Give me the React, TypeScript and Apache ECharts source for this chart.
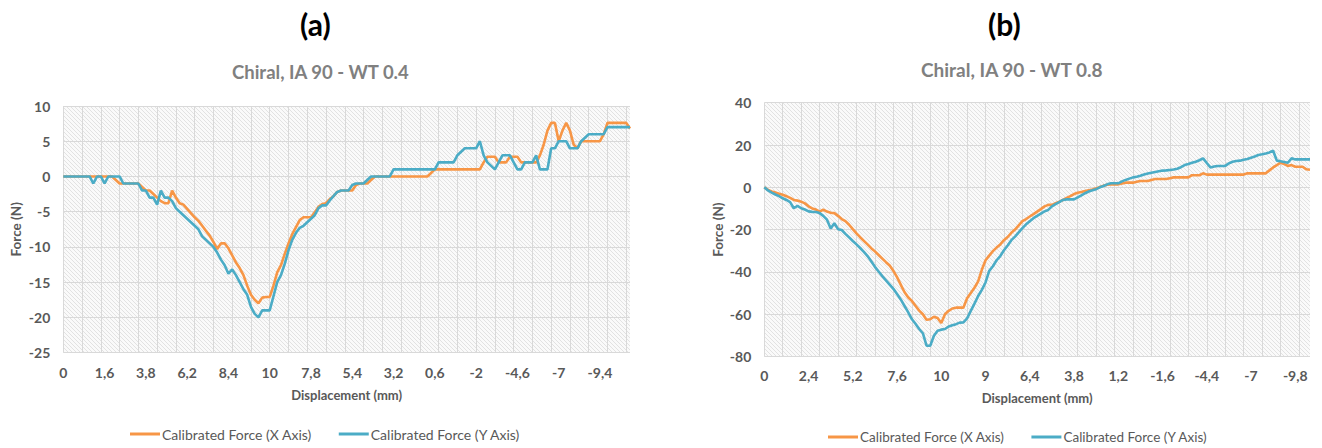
import React, { useEffect, useRef } from "react";
import * as echarts from "echarts";

// ---------- data ----------
const seriesNames = ["Calibrated Force (X Axis)", "Calibrated Force (Y Axis)"];

// (a) Chiral, IA 90 - WT 0.4 : tick labels shown every 11 samples
const tickLabelsA = ["0", "1,6", "3,8", "6,2", "8,4", "10", "7,8", "5,4", "3,2", "0,6", "-2", "-4,6", "-7", "-9,4"];
const labelStepA = 11;
const forceXA = [
  0, 0, 0, 0, 0, 0, 0, 0, 0, 0,
  0, 0, 0, 0, -0.5, -1, -1, -1, -1, -1,
  -1, -1.5, -2, -2, -2.5, -3, -3.5, -3.8, -3.8, -2,
  -3, -3.8, -4, -4.6, -5.2, -5.8, -6.3, -7, -7.7, -8.4,
  -9.3, -10.3, -9.5, -9.5, -10.2, -11.2, -12.2, -13, -14, -15.5,
  -16.8, -17.5, -18, -17.2, -17.1, -17.1, -15.5, -13.6, -12.6, -11,
  -9.5, -8.2, -7.2, -6.2, -5.8, -5.8, -5.8, -5.1, -4.3, -3.9,
  -3.8, -3.2, -2.8, -2.2, -2, -2, -2, -2, -1.2, -1,
  -1, -1, -0.5, 0, 0, 0, 0, 0, 0, 0,
  0, 0, 0, 0, 0, 0, 0, 0, 0.5, 1,
  1, 1, 1, 1, 1, 1, 1, 1, 1, 1,
  1, 1, 2, 2.8, 2.8, 2.8, 2, 2, 2, 2.8,
  2.8, 2.8, 2, 2, 2, 2, 2, 3, 4.5, 6.5,
  7.6, 7.6, 5, 6.5, 7.6, 6.5, 4.5, 4, 5, 5,
  5, 5, 5, 5, 6, 7.6, 7.6, 7.6, 7.6, 7.6,
  7.6, 6.8,
];
const forceYA = [
  0, 0, 0, 0, 0, 0, 0, 0, -1, 0,
  0, -1, 0, 0, 0, 0, -1, -1, -1, -1,
  -1, -2, -2, -3, -3, -4, -2, -3, -3, -3.5,
  -4.5, -5, -5.5, -6, -6.5, -7, -7.5, -8.5, -9, -9.5,
  -10, -10.8, -11.8, -12.6, -13.8, -13.2, -14, -15, -16, -16.8,
  -18.5, -19.5, -20, -19, -19, -19, -17, -15, -14, -12.4,
  -10.5, -9, -8, -7.3, -7, -6.5, -6, -5.5, -4.5, -4.1,
  -4.1, -3.4, -2.8, -2.2, -2, -2, -2, -1.2, -1, -1,
  -1, -0.5, 0, 0, 0, 0, 0, 0, 1, 1,
  1, 1, 1, 1, 1, 1, 1, 1, 1, 1,
  2, 2, 2, 2, 2, 3, 3.5, 4, 4, 4,
  4, 5, 3, 2, 1.5, 1, 2, 3, 3, 3,
  2, 1, 1, 2, 2, 2, 3, 1, 1, 1,
  4, 4, 5, 5, 5, 4, 4, 4, 5, 5.5,
  6, 6, 6, 6, 6, 7, 7, 7, 7, 7,
  7, 7,
];
const yAxisA = { min: -25, max: 10, interval: 5 };

// (b) Chiral, IA 90 - WT 0.8 : tick labels shown every 12 samples
const tickLabelsB = ["0", "2,4", "5,2", "7,6", "10", "9", "6,4", "3,8", "1,2", "-1,6", "-4,4", "-7", "-9,8"];
const labelStepB = 12;
const forceXB = [
  0, -1.2, -2, -2.5, -3, -3.5, -4.2, -5, -6, -6.3,
  -6.8, -7.6, -9, -10, -10.5, -11.5, -10.5, -11.5, -12, -12.2,
  -13.5, -15, -16, -17.7, -19.8, -21.8, -23.6, -25.3, -27, -28.8,
  -30.3, -32, -33.7, -35.4, -37, -39.5, -42.5, -46, -49.5, -52,
  -53.7, -56, -58.3, -60, -62.6, -62.4, -61.2, -61.8, -64.2, -60,
  -58.4, -57.3, -56.9, -56.9, -56.9, -52.5, -50, -47.5, -44.5, -39,
  -34.5, -32.3, -30.2, -28.5, -27, -25, -23.5, -21.5, -20, -18,
  -16, -15, -13.8, -12.7, -11.5, -10.3, -9, -8.3, -8.3, -7.5,
  -6.8, -6, -5, -4.2, -3.2, -2.6, -2.2, -1.8, -1.4, -1,
  -0.5, 0.2, 0.8, 1.2, 1.4, 1.4, 1.4, 1.8, 2.2, 2.2,
  2.2, 2.6, 3, 3, 3, 3.5, 3.9, 3.9, 3.9, 3.9,
  4.3, 4.7, 4.7, 4.7, 4.7, 4.7, 5.7, 5.7, 5.7, 6.6,
  6, 6, 6, 6, 6, 6, 6, 6, 6, 6,
  6, 6.6, 6.6, 6.6, 6.6, 6.6, 6.6, 8, 9.4, 10.5,
  11.6, 11, 10.1, 10.5, 9.7, 9.7, 9.7, 8.5, 8.3,
];
const forceYB = [
  0, -1.5, -2.5, -3.4, -4.2, -5.2, -6, -7, -9.9, -8.8,
  -9.9, -10.5, -11.4, -11.6, -11.7, -12.2, -13.5, -15.3, -19.5, -17,
  -19.8, -20.2, -22, -23.7, -25.4, -27, -28.7, -30.5, -32.5, -35,
  -37.6, -39.8, -42, -44, -46, -48, -50.5, -53, -56, -59,
  -62.3, -64.5, -67, -69, -74.9, -74.9, -70.2, -67.8, -67.3, -67,
  -65.8, -65.2, -64.7, -64, -63.9, -62, -58.4, -55, -51.4, -48.5,
  -45, -39.5, -37.3, -34.5, -32.5, -29.8, -27.5, -25, -23.3, -21.3,
  -19.3, -17.5, -16, -14.6, -13.5, -12.4, -11.4, -10.7, -9, -8,
  -7, -6, -5.7, -5.7, -5.7, -4.8, -3.8, -2.8, -2, -1.4,
  -0.9, 0, 0.6, 1.4, 1.9, 1.9, 1.9, 2.8, 3.5, 4.1,
  4.7, 5, 5.5, 6.1, 6.5, 6.9, 7.2, 7.6, 7.9, 8,
  8.2, 8.4, 8.8, 9.5, 10.5, 11, 11.6, 12.1, 12.8, 13.7,
  11.5, 9.4, 9.8, 10.1, 10.1, 10.1, 11.3, 12.1, 12.4, 12.6,
  13, 13.4, 14, 14.6, 15.3, 15.6, 16, 16.5, 17.3, 12.6,
  12.3, 12, 11.6, 13.7, 13.2, 13.2, 13.2, 13.2, 13.2,
];
const yAxisB = { min: -80, max: 40, interval: 20 };

// ---------- styles ----------
const FONT = "Lato, 'Open Sans', sans-serif";
const AXIS_TEXT = "#595959";
const GRID_LINE = "#d9d9d9";
const ORANGE = "#F79646";
const BLUE = "#4BACC6";

function makeHatch(): HTMLCanvasElement {
  const c = document.createElement("canvas");
  c.width = 4;
  c.height = 4;
  const ctx = c.getContext("2d")!;
  ctx.fillStyle = "#fafafa";
  ctx.fillRect(0, 0, 4, 4);
  ctx.fillStyle = "#e2e2e2";
  for (let k = 0; k < 4; k++) ctx.fillRect(k, k, 1, 1);
  return c;
}

function xAxisFor(gridIndex: number, n: number, labels: string[], step: number, nameGap: number, margin: number) {
  return {
    type: "category" as const,
    gridIndex,
    data: Array.from({ length: n }, (_, i) => String(i)),
    boundaryGap: false,
    axisLine: { show: false },
    axisTick: { show: false },
    axisLabel: {
      interval: (i: number) => i % step === 0 && i / step < labels.length,
      formatter: (_v: string, i: number) => labels[i / step] ?? "",
      color: AXIS_TEXT,
      fontWeight: "bold" as const,
      fontSize: 14,
      fontFamily: FONT,
      margin,
    },
    splitLine: { show: true, interval: (i: number) => i % 5 === 0, lineStyle: { color: GRID_LINE, width: 1 } },
    name: "Displacement (mm)",
    nameLocation: "middle" as const,
    nameGap,
    nameTextStyle: { color: AXIS_TEXT, fontWeight: "bold" as const, fontSize: 13, fontFamily: FONT },
  };
}

function yAxisFor(gridIndex: number, cfg: { min: number; max: number; interval: number }, nameGap: number) {
  return {
    type: "value" as const,
    gridIndex,
    min: cfg.min,
    max: cfg.max,
    interval: cfg.interval,
    axisLine: { show: false },
    axisTick: { show: false },
    axisLabel: { color: AXIS_TEXT, fontWeight: "bold" as const, fontSize: 14, fontFamily: FONT, margin: 13 },
    splitLine: { show: true, lineStyle: { color: GRID_LINE, width: 1 } },
    name: "Force (N)",
    nameLocation: "middle" as const,
    nameGap,
    nameRotate: 90,
    nameTextStyle: { color: AXIS_TEXT, fontWeight: "bold" as const, fontSize: 13.5, fontFamily: FONT },
  };
}

function lineSeries(name: string, data: number[], axisIndex: number, color: string) {
  return {
    type: "line" as const,
    name,
    data,
    xAxisIndex: axisIndex,
    yAxisIndex: axisIndex,
    symbol: "none",
    showSymbol: false,
    lineStyle: { color, width: 2.6 },
    itemStyle: { color },
  };
}

export default function App() {
  const ref = useRef<HTMLDivElement>(null);

  useEffect(() => {
    document.body.style.margin = "0";
    if (!ref.current) return;
    const chart = echarts.init(ref.current, undefined, { renderer: "svg" });
    const hatch = makeHatch();
    const pattern = { image: hatch, repeat: "repeat" as const };

    const legendCommon = {
      icon: "rect",
      itemWidth: 30,
      itemHeight: 3,
      itemGap: 27,
      padding: 0,
      data: seriesNames,
    };

    chart.setOption({
      animation: false,
      backgroundColor: "#ffffff",
      grid: [
        { left: 63.3, top: 106, width: 566.7, height: 246.6, show: true, backgroundColor: pattern, borderWidth: 0 },
        { left: 764.3, top: 102.7, width: 545.7, height: 253.8, show: true, backgroundColor: pattern, borderWidth: 0 },
      ],
      xAxis: [
        xAxisFor(0, forceXA.length, tickLabelsA, labelStepA, 36, 13),
        xAxisFor(1, forceXB.length, tickLabelsB, labelStepB, 35, 12),
      ],
      yAxis: [yAxisFor(0, yAxisA, 40), yAxisFor(1, yAxisB, 39)],
      legend: [
        {
          ...legendCommon,
          left: 130,
          top: 427,
          textStyle: { color: AXIS_TEXT, fontSize: 14, fontFamily: FONT, padding: [0, 0, 0, -3] },
        },
        {
          ...legendCommon,
          left: 828,
          top: 430,
          textStyle: { color: AXIS_TEXT, fontSize: 13.5, fontFamily: FONT, padding: [0, 0, 0, -3] },
        },
      ],
      graphic: [
        { type: "text", left: 300, top: 9, style: { text: "(a)", fill: "#000000", font: `bold 30px ${FONT}` } },
        { type: "text", left: 232, top: 62, style: { text: "Chiral, IA 90 - WT 0.4", fill: "#808080", font: `bold 18.5px ${FONT}` } },
        { type: "text", left: 988, top: 9, style: { text: "(b)", fill: "#000000", font: `bold 30px ${FONT}` } },
        { type: "text", left: 921, top: 60, style: { text: "Chiral, IA 90 - WT 0.8", fill: "#808080", font: `bold 19px ${FONT}` } },
      ],
      series: [
        lineSeries(seriesNames[0], forceXA, 0, ORANGE),
        lineSeries(seriesNames[1], forceYA, 0, BLUE),
        lineSeries(seriesNames[0], forceXB, 1, ORANGE),
        lineSeries(seriesNames[1], forceYB, 1, BLUE),
      ],
    });

    return () => chart.dispose();
  }, []);

  return <div ref={ref} style={{ width: 1322, height: 448 }} />;
}
